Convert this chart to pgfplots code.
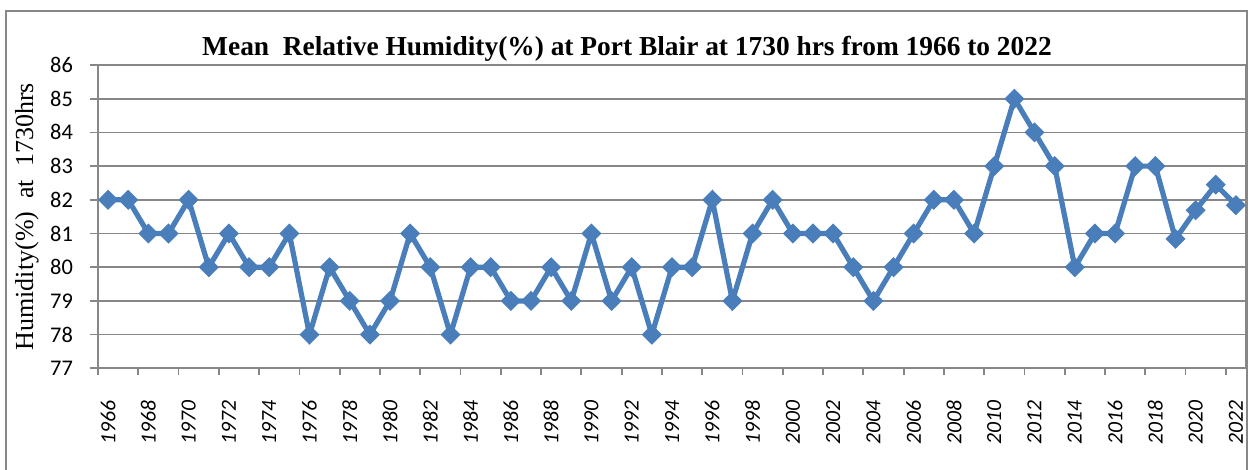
\documentclass[border=0pt]{standalone}
\usepackage{fontspec}
\setmainfont{Liberation Serif}
\newfontfamily\carlito{Carlito}
\usepackage{pgfplots}
\pgfplotsset{compat=1.18}
\definecolor{xlblue}{HTML}{4A7EBB}
\definecolor{gridgray}{HTML}{878787}
\begin{document}
\begin{tikzpicture}[x=1pt,y=1pt]
\path[use as bounding box] (0,0) rectangle (625.5,235);
\draw[gridgray, line width=1pt] (3,-5) rectangle (623.3,229.5);
\begin{axis}[
  at={(49pt,50.85pt)}, anchor=south west,
  scale only axis, width=574pt, height=151.65pt,
  xmin=1965.5, xmax=2022.5, ymin=77, ymax=86,
  axis line style={gridgray, line width=1pt},
  ytick={77,78,...,86}, ymajorgrids,
  grid style={gridgray, line width=0.9pt},
  xtick={1966,1968,...,2022},
  major x tick style={draw=none},
  minor xtick={1965.5,1967.5,...,2021.5},
  tick align=outside,
  major tick length=4pt, minor tick length=3.5pt,
  xtick pos=bottom, ytick pos=left,
  tick style={gridgray, line width=0.9pt},
  xticklabel style={rotate=90, anchor=east, xshift=-8.5pt, font=\carlito\itshape\fontsize{10.8}{10.8}\selectfont},
  yticklabel style={xshift=-5pt, font=\carlito\fontsize{11.2}{11.2}\selectfont},
  /pgf/number format/assume math mode=true,
  /pgf/number format/1000 sep={},
  title={Mean~~Relative Humidity(\%) at Port Blair at 1730 hrs from 1966 to 2022},
  title style={at={(axis description cs:0.4608,1)}, anchor=base, yshift=-1pt, font=\bfseries\fontsize{13.7}{13.7}\selectfont},
  ylabel={Humidity(\%)~~at~~1730hrs},
  every axis y label/.style={at={(axis description cs:-0.06185,0.5)}, anchor=center, rotate=90, font=\fontsize{13}{13}\selectfont},
]
\addplot[color=xlblue, line width=2.6pt, mark=square*, mark size=3.3pt, mark options={rotate=45, fill=xlblue, draw=xlblue, line width=0.5pt}] table {
x y
1966 82
1967 82
1968 81
1969 81
1970 82
1971 80
1972 81
1973 80
1974 80
1975 81
1976 78
1977 80
1978 79
1979 78
1980 79
1981 81
1982 80
1983 78
1984 80
1985 80
1986 79
1987 79
1988 80
1989 79
1990 81
1991 79
1992 80
1993 78
1994 80
1995 80
1996 82
1997 79
1998 81
1999 82
2000 81
2001 81
2002 81
2003 80
2004 79
2005 80
2006 81
2007 82
2008 82
2009 81
2010 83
2011 85
2012 84
2013 83
2014 80
2015 81
2016 81
2017 83
2018 83
2019 80.84
2020 81.69
2021 82.45
2022 81.84
};
\end{axis}
\end{tikzpicture}
\end{document}
